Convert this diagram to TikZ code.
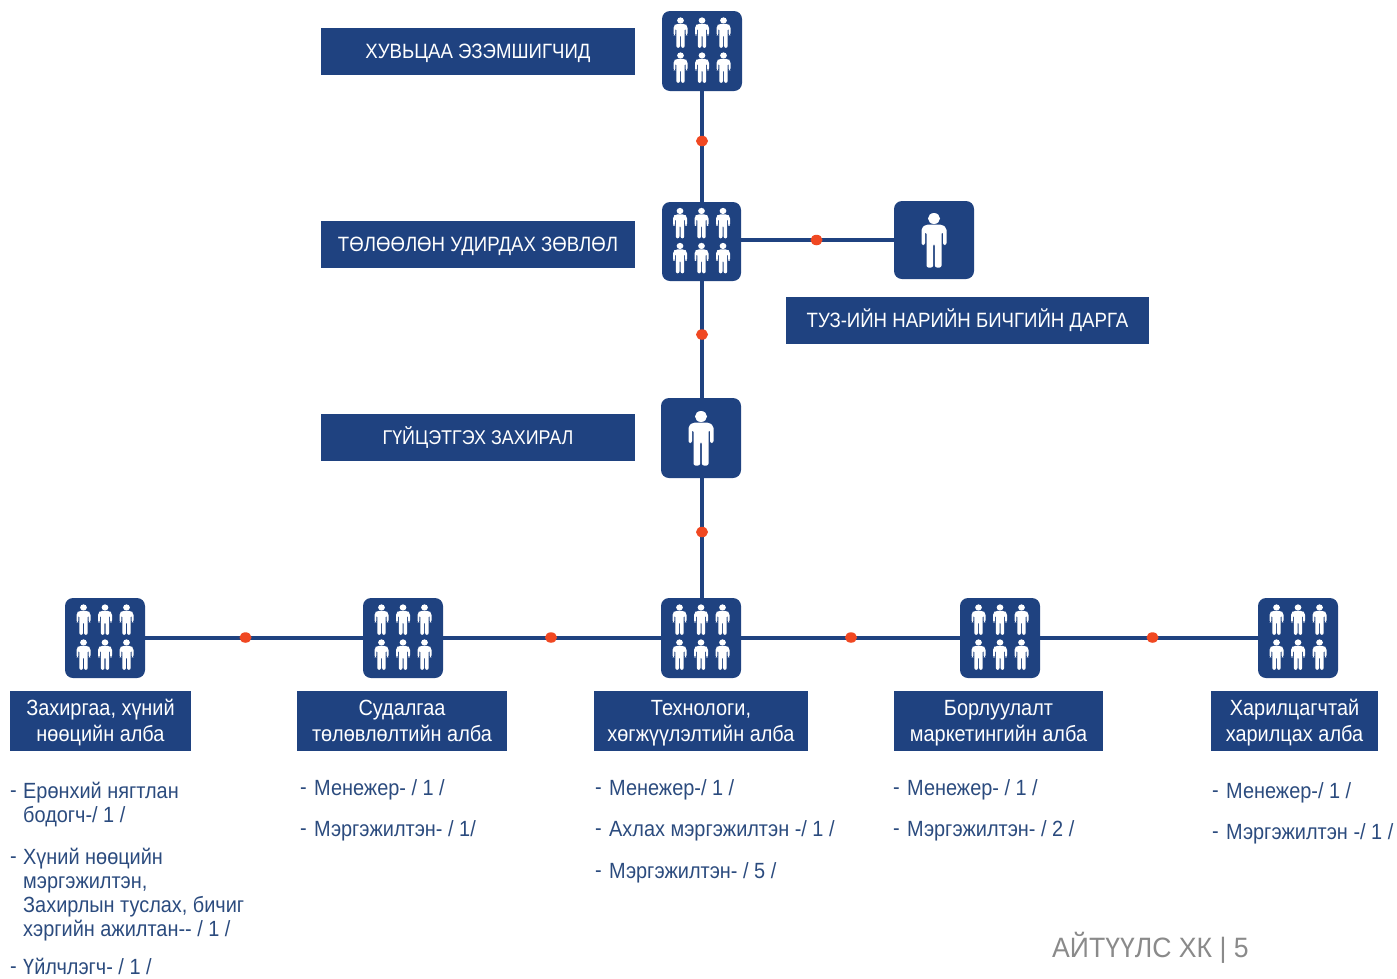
\documentclass[tikz,border=0pt]{standalone}
\usepackage{fontspec}
\setmainfont[FakeStretch=0.9]{Liberation Sans}
\newfontfamily\condfont[FakeStretch=0.905]{Liberation Sans}
\newfontfamily\footfont[FakeStretch=0.95]{Liberation Sans}
\usetikzlibrary{shapes.geometric}
\definecolor{navy}{HTML}{1F4280}
\definecolor{listblue}{HTML}{2B4B7E}
\definecolor{dotred}{HTML}{F04822}
\definecolor{footgray}{HTML}{8A8A8A}
\newcommand\deptlines[2]{\rule{0pt}{14pt}\smash{#1}\\\smash{#2}}
\tikzset{
  x=1pt,y=1pt,
  iconbox/.style={fill=navy,rounded corners=8pt,minimum width=80pt,minimum height=80pt,inner sep=0pt,outer sep=0pt},
  titlebox/.style={fill=navy,text=white,inner sep=0pt,outer sep=0pt,text height=14.5pt,text depth=0pt,font=\fontsize{20.7}{24}\selectfont},
  deptbox/.style={fill=navy,text=white,inner sep=0pt,outer sep=0pt,align=center,font=\condfont\fontsize{22}{26}\selectfont},
  listitem/.style={anchor=north west,align=left,inner sep=0pt,text=listblue,font=\condfont\fontsize{22}{24}\selectfont,execute at begin node={\rule{0pt}{15pt}}},
  link/.style={draw=navy,line width=3.6pt},
  dotmark/.style={fill=dotred,ellipse,minimum width=12pt,minimum height=10.5pt,inner sep=0pt},
  footer/.style={text=footgray,inner sep=0pt,font=\footfont\fontsize{28}{30}\selectfont},
  pics/man/.style={code={
    \fill[white,scale=#1] (0,21.5) ellipse (6 and 5.5);
    \fill[white,scale=#1,rounded corners=2pt]
      (-12.5,-5) -- (-12.5,12) -- (-8,15.5) -- (8,15.5) -- (12.5,12) -- (12.5,-5) -- (9,-5) -- (9,8)
      -- (7.5,8) -- (7.5,-27.5) -- (0.9,-27.5) -- (0.9,-4) -- (-0.9,-4) -- (-0.9,-27.5) -- (-7.5,-27.5)
      -- (-7.5,8) -- (-9,8) -- (-9,-5) -- cycle;
  }},
  pics/sixmen/.style={code={
    \foreach \px in {-21.5,0,21.5}\foreach \py in {-16.5,18.5}{\path (\px,\py) pic {man=0.56};}
  }}
}
\begin{document}
\begin{tikzpicture}
\useasboundingbox (0,0) rectangle (1397,-978);
% icons
\node[iconbox] (owners) at (702,-51) {};
\node[iconbox,minimum width=79pt,minimum height=79pt] (board) at (701.5,-241.5) {};
\node[iconbox,minimum height=78pt] (secretary) at (934,-240) {};
\node[iconbox] (ceo) at (701,-438) {};
\node[iconbox] (admin) at (105,-638) {};
\node[iconbox] (research) at (403,-638) {};
\node[iconbox] (tech) at (701,-638) {};
\node[iconbox] (sales) at (1000,-638) {};
\node[iconbox] (care) at (1298,-638) {};
\path (owners) pic {sixmen};
\path (board) pic {sixmen};
\path (secretary) pic {man=1};
\path (ceo) pic {man=1};
\foreach \n in {admin,research,tech,sales,care}{\path (\n) pic {sixmen};}
% connectors
\draw[link] (owners.south -| 702,0) -- (board.north -| 702,0);
\draw[link] (board.south -| 702,0) -- (ceo.north -| 702,0);
\draw[link] (ceo.south -| 702,0) -- (tech.north -| 702,0);
\draw[link] (secretary.west) -- (secretary.west -| board.east);
\draw[link] (admin) -- (research);
\draw[link] (research) -- (tech);
\draw[link] (tech) -- (sales);
\draw[link] (sales) -- (care);
% dots
\node[dotmark] (d1) at (702,-141) {};
\node[dotmark] (d2) at (702,-334.5) {};
\node[dotmark] (d3) at (702,-532) {};
\node[dotmark] (d4) at (816.5,-240) {};
\node[dotmark] (d5) at (245.5,-637.5) {};
\node[dotmark] (d6) at (551,-637.5) {};
\node[dotmark] (d7) at (851,-637.5) {};
\node[dotmark] (d8) at (1152.5,-637.5) {};
% title boxes
\node[titlebox,minimum width=314pt,minimum height=47pt] (t1) at (478,-51.5) {ХУВЬЦАА ЭЗЭМШИГЧИД};
\node[titlebox,minimum width=314pt,minimum height=47pt] (t2) at (478,-244.5) {ТӨЛӨӨЛӨН УДИРДАХ ЗӨВЛӨЛ};
\node[titlebox,minimum width=314pt,minimum height=47pt,font=\fontsize{19.9}{24}\selectfont] (t3) at (478,-437.5) {ГҮЙЦЭТГЭХ ЗАХИРАЛ};
\node[titlebox,minimum width=363pt,minimum height=47pt] (t4) at (967.5,-320.5) {ТУЗ-ИЙН НАРИЙН БИЧГИЙН ДАРГА};
% department boxes
\node[deptbox,minimum width=181pt,minimum height=60pt] (b1) at (100.5,-721) {\deptlines{Захиргаа, хүний}{нөөцийн алба}};
\node[deptbox,minimum width=210pt,minimum height=60pt] (b2) at (402,-721) {\deptlines{Судалгаа}{төлөвлөлтийн алба}};
\node[deptbox,minimum width=214pt,minimum height=60pt] (b3) at (701,-721) {\deptlines{Технологи,}{хөгжүүлэлтийн алба}};
\node[deptbox,minimum width=209pt,minimum height=60pt] (b4) at (998.5,-721) {\deptlines{Борлуулалт}{маркетингийн алба}};
\node[deptbox,minimum width=167pt,minimum height=60pt] (b5) at (1294.5,-721) {\deptlines{Харилцагчтай}{харилцах алба}};
% lists
\foreach \lx/\ly/\txt in {
  10/-782/-, 23/-782/{Ерөнхий нягтлан\\бодогч-/ 1 /},
  10/-848/-, 23/-848/{Хүний нөөцийн\\мэргэжилтэн,\\Захирлын туслах, бичиг\\хэргийн ажилтан-- / 1 /},
  10/-958/-, 23/-958/{Үйлчлэгч- / 1 /},
  300/-779/-, 314/-779/{Менежер- / 1 /},
  300/-820/-, 314/-820/{Мэргэжилтэн- / 1/},
  595/-779/-, 609/-779/{Менежер-/ 1 /},
  595/-820/-, 609/-820/{Ахлах мэргэжилтэн -/ 1 /},
  595/-862/-, 609/-862/{Мэргэжилтэн- / 5 /},
  893/-779/-, 907/-779/{Менежер- / 1 /},
  893/-820/-, 907/-820/{Мэргэжилтэн- / 2 /},
  1212/-782/-, 1226/-782/{Менежер-/ 1 /},
  1212/-823/-, 1226/-823/{Мэргэжилтэн -/ 1 /}
}{\node[listitem] at (\lx,\ly) {\txt};}
\node[footer,anchor=west] (foot) at (1052,-948) {АЙТҮҮЛС ХК | 5};
\end{tikzpicture}
\end{document}
